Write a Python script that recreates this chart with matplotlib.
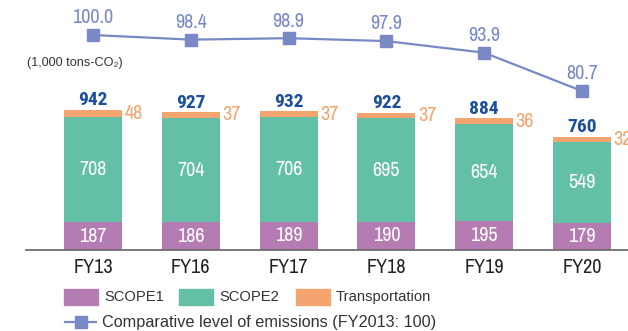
import matplotlib
matplotlib.use("Agg")
import matplotlib.pyplot as plt
from matplotlib.patches import Rectangle
from matplotlib.lines import Line2D
import numpy as np

years = ["FY13", "FY16", "FY17", "FY18", "FY19", "FY20"]
scope1 = [187, 186, 189, 190, 195, 179]
scope2 = [708, 704, 706, 695, 654, 549]
transport = [48, 37, 37, 37, 36, 32]
totals = [942, 927, 932, 922, 884, 760]
index_level = [100.0, 98.4, 98.9, 97.9, 93.9, 80.7]

C_S1 = "#b57bb3"
C_S2 = "#63c0a6"
C_TR = "#f4a46e"
C_LINE = "#7889c6"
C_TOTAL = "#1b4f9c"
C_TEXT = "#333333"

NARROW = ["Liberation Sans Narrow", "Archivo Narrow", "Liberation Sans", "DejaVu Sans"]
NARROW_B = ["Liberation Sans Narrow", "Roboto Condensed", "Barlow Semi Condensed",
            "Archivo Narrow", "Liberation Sans", "DejaVu Sans"]
REG = ["Liberation Sans", "DejaVu Sans"]

W, H = 628, 331
fig = plt.figure(figsize=(W / 100, H / 100), dpi=100)


def fx(px):
    return px / W


def fy(py):
    return 1 - py / H


# main axes: baseline at y=250 px, spanning to the right edge
ax = fig.add_axes([fx(26), fy(250), fx(W - 26), 250 / H])
x = np.arange(len(years))
step = 97.8
ax.set_xlim(-(93 - 26) / step, (W - 93) / step)
px_per_unit = 140 / 942
ax.set_ylim(0, 250 / px_per_unit)
bw = 58 / step

s1 = np.array(scope1)
s2 = np.array(scope2)
tr = np.array(transport)
ax.bar(x, s1, width=bw, color=C_S1, zorder=2)
ax.bar(x, s2, width=bw, bottom=s1, color=C_S2, zorder=2)
ax.bar(x, tr, width=bw, bottom=s1 + s2, color=C_TR, zorder=2)

for i in range(len(years)):
    ax.text(x[i], s1[i] / 2, str(scope1[i]), ha="center", va="center",
            color="white", fontsize=14.5, family=NARROW)
    ax.text(x[i], s1[i] + s2[i] / 2, str(scope2[i]), ha="center", va="center",
            color="white", fontsize=14.5, family=NARROW)
    top = s1[i] + s2[i] + tr[i]
    ax.text(x[i] + bw / 2 + 0.025, s1[i] + s2[i] + tr[i] / 2, str(transport[i]),
            ha="left", va="center", color=C_TR, fontsize=14.5, family=NARROW)
    ax.annotate(str(totals[i]), (x[i], top), xytext=(0, 0.5),
                textcoords="offset points", ha="center", va="bottom",
                color=C_TOTAL, fontsize=14, fontweight="bold", family=NARROW_B)

for sp in ["top", "left", "right"]:
    ax.spines[sp].set_visible(False)
ax.spines["bottom"].set_color("#6e6e6e")
ax.spines["bottom"].set_linewidth(1.3)
ax.set_yticks([])
ax.set_xticks(x)
ax.set_xticklabels(years, fontsize=14.5, family=NARROW, color="#222222")
ax.tick_params(axis="x", length=0, pad=6)
ax.patch.set_alpha(0)

# comparative level line on its own scale
ax2 = ax.twinx()
ppu = 56 / 19.3
lo = 80.7 - 159 / ppu
ax2.set_ylim(lo, lo + 250 / ppu)
ax2.plot(x, index_level, color=C_LINE, lw=1.6, marker="s", markersize=8.5,
         markerfacecolor=C_LINE, markeredgecolor=C_LINE, zorder=3)
for i, v in enumerate(index_level):
    ax2.annotate(f"{v:.1f}", (x[i], v), xytext=(0, 5.5), textcoords="offset points",
                 ha="center", va="bottom", color=C_LINE, fontsize=14.5, family=NARROW)
ax2.set_yticks([])
for sp in ax2.spines.values():
    sp.set_visible(False)

fig.text(fx(27), fy(63), "(1,000 tons-CO\u2082)", ha="left", va="center",
         fontsize=9.1, family=REG, color=C_TEXT)

# legend row 1: colour boxes
items = [(64, "SCOPE1", C_S1), (179, "SCOPE2", C_S2), (296, "Transportation", C_TR)]
for px0, label, col in items:
    fig.patches.append(Rectangle((fx(px0), fy(305)), fx(34), 16 / H,
                                 transform=fig.transFigure, color=col))
    fig.text(fx(px0 + 40), fy(297), label, ha="left", va="center",
             fontsize=10.6, family=REG, color=C_TEXT)

# legend row 2: line entry
fig.lines.append(Line2D([fx(65), fx(96)], [fy(322), fy(322)],
                        transform=fig.transFigure, color=C_LINE, lw=1.6))
fig.lines.append(Line2D([fx(80.5)], [fy(322)], transform=fig.transFigure,
                        marker="s", markersize=8, color=C_LINE, lw=0))
fig.text(fx(102), fy(322), "Comparative level of emissions (FY2013: 100)",
         ha="left", va="center", fontsize=11.7, family=REG, color=C_TEXT)

fig.savefig("out.png", dpi=100)
